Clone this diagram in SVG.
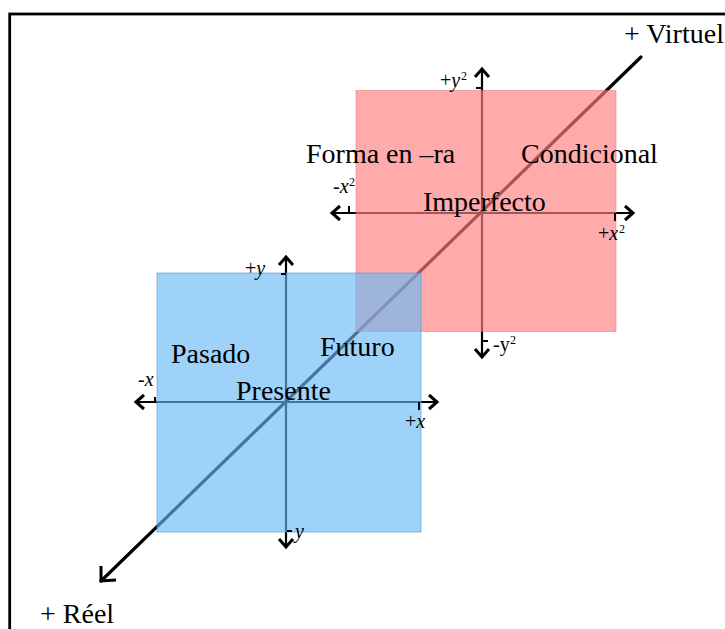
<svg xmlns="http://www.w3.org/2000/svg" width="725" height="629" viewBox="0 0 725 629">
<defs>
<style>
.frame{fill:none;stroke:#000;stroke-width:2.8}
.axis{stroke:#000;stroke-width:2.2;fill:none}
.diag{stroke:#000;stroke-width:3.2;fill:none;stroke-linecap:round}
.head{stroke:#000;stroke-width:3;fill:none;stroke-linecap:butt;stroke-linejoin:miter}
.tick{stroke:#000;stroke-width:2;fill:none}
.red{fill:rgb(255,128,128);fill-opacity:0.66;stroke:rgb(230,110,110);stroke-opacity:0.5;stroke-width:1}
.blue{fill:rgb(105,184,245);fill-opacity:0.64;stroke:rgb(80,150,210);stroke-opacity:0.6;stroke-width:1}
.big{font-family:"Liberation Serif","Times New Roman",serif;font-size:28px;fill:#000}
.sm{font-family:"Liberation Serif","Times New Roman",serif;font-size:20px;fill:#000}
.it{font-style:italic}
.sup{font-family:"Liberation Serif","Times New Roman",serif;font-size:12px;fill:#000}
</style>
</defs>
<rect width="725" height="629" fill="#fff"/>
<rect class="frame" x="9.7" y="14" width="800" height="700"/>

<g id="connectors">
  <line class="diag" x1="641" y1="57" x2="101" y2="581"/>
  <polyline class="head" points="116,580 101,581 101,566"/>
  <!-- red axes -->
  <line class="axis" x1="482" y1="70" x2="482" y2="356"/>
  <line class="axis" x1="334" y1="213" x2="631" y2="213"/>
  <polyline class="head" points="475,77 482,69 489,77"/>
  <polyline class="head" points="475,349 482,357 489,349"/>
  <polyline class="head" points="340,206 332,213 340,220"/>
  <polyline class="head" points="625,206 633,213 625,220"/>
  <!-- blue axes -->
  <line class="axis" x1="286" y1="259" x2="286" y2="545"/>
  <line class="axis" x1="138" y1="402" x2="435" y2="402"/>
  <polyline class="head" points="279,265 286,257 293,265"/>
  <polyline class="head" points="279,539 286,547 293,539"/>
  <polyline class="head" points="144,395 136,402 144,409"/>
  <polyline class="head" points="429,395 437,402 429,409"/>
</g>

<g id="plane-virtuel">
  <rect class="red" x="356" y="90.5" width="260" height="241"/>
</g>
<g id="plane-reel">
  <rect class="blue" x="157" y="273" width="264" height="259"/>
</g>

<g id="ticks">
  <line class="tick" x1="476" y1="88" x2="481" y2="88"/>
  <line class="tick" x1="483" y1="341" x2="488" y2="341"/>
  <line class="tick" x1="349" y1="206" x2="349" y2="213"/>
  <line class="tick" x1="615" y1="213" x2="615" y2="221"/>
  <line class="tick" x1="281" y1="274" x2="286" y2="274"/>
  <line class="tick" x1="287" y1="531" x2="292" y2="531"/>
  <line class="tick" x1="155" y1="397" x2="155" y2="402"/>
  <line class="tick" x1="419" y1="402" x2="419" y2="410"/>
</g>

<g id="label-virtuel"><text class="big" x="624" y="43">+ Virtuel</text></g>
<g id="label-reel"><text class="big" x="40" y="623">+ Réel</text></g>
<g id="label-forma"><text class="big" x="306" y="163">Forma en –ra</text></g>
<g id="label-condicional"><text class="big" x="521" y="163">Condicional</text></g>
<g id="label-imperfecto"><text class="big" x="423" y="211">Imperfecto</text></g>
<g id="label-pasado"><text class="big" x="171" y="363">Pasado</text></g>
<g id="label-futuro"><text class="big" x="320" y="356">Futuro</text></g>
<g id="label-presente"><text class="big" x="236" y="400">Presente</text></g>

<g id="axis-labels">
  <text class="sm" x="440" y="87">+<tspan class="it">y</tspan></text><text class="sup" x="461" y="80">2</text>
  <text class="sm" x="333" y="193">-<tspan class="it">x</tspan></text><text class="sup" x="349" y="186">2</text>
  <text class="sm" x="598" y="240">+<tspan class="it">x</tspan></text><text class="sup" x="619" y="233">2</text>
  <text class="sm" x="493" y="351">-y</text><text class="sup" x="510" y="344">2</text>
  <text class="sm" x="245" y="275">+<tspan class="it">y</tspan></text>
  <text class="sm" x="138" y="386">-<tspan class="it">x</tspan></text>
  <text class="sm" x="405" y="428">+<tspan class="it">x</tspan></text>
  <text class="sm it" x="295" y="538">y</text>
</g>
</svg>
